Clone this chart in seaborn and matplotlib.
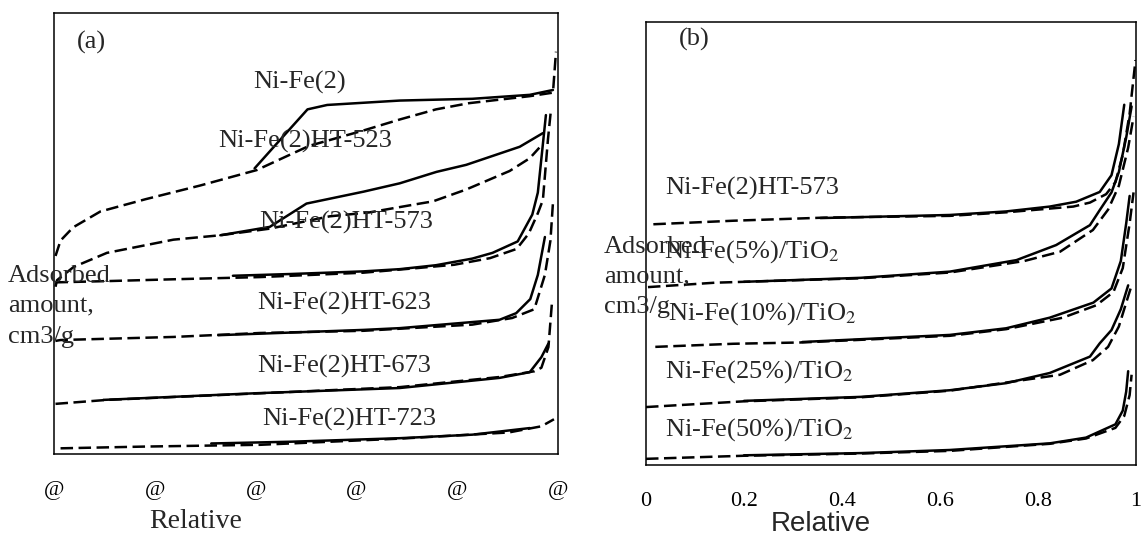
import matplotlib
matplotlib.use("Agg")
import matplotlib.pyplot as plt
import seaborn as sns
import pandas as pd

# relative pressure (x) and adsorbed amount (arbitrary offset units, y)
# dashed = adsorption branch, solid = desorption branch

# ---- panel (a): Ni-Fe(2) heat treated series ----
a_labels = ["Ni-Fe(2)", "Ni-Fe(2)HT-523", "Ni-Fe(2)HT-573",
            "Ni-Fe(2)HT-623", "Ni-Fe(2)HT-673", "Ni-Fe(2)HT-723"]

nife2_ads_x = [0.003, 0.013, 0.038, 0.092, 0.182, 0.290, 0.402, 0.506, 0.614, 0.686, 0.758, 0.823, 0.944, 0.990, 0.996]
nife2_ads_y = [44.9, 48.4, 51.4, 55.0, 57.8, 60.9, 64.4, 69.9, 73.4, 75.9, 78.2, 79.6, 81.2, 82.0, 91.3]
nife2_des_x = [0.398, 0.441, 0.503, 0.542, 0.686, 0.830, 0.944, 0.990]
nife2_des_y = [64.8, 70.3, 78.2, 79.2, 80.2, 80.6, 81.5, 82.6]

ht523_ads_x = [0.003, 0.006, 0.039, 0.105, 0.237, 0.330, 0.428, 0.547, 0.626, 0.726, 0.752, 0.818, 0.904, 0.944, 0.963]
ht523_ads_y = [37.9, 39.4, 42.4, 45.6, 48.6, 49.6, 51.1, 53.9, 54.8, 56.8, 57.3, 60.0, 64.2, 67.1, 69.5]
ht523_des_x = [0.330, 0.428, 0.501, 0.614, 0.686, 0.759, 0.818, 0.924, 0.970]
ht523_des_y = [49.6, 51.5, 56.8, 59.5, 61.4, 64.0, 65.6, 69.7, 72.8]

ht573_ads_x = [0.003, 0.110, 0.237, 0.409, 0.614, 0.726, 0.794, 0.865, 0.918, 0.942, 0.960, 0.970, 0.980, 0.986]
ht573_ads_y = [38.9, 39.2, 39.6, 40.1, 41.1, 42.2, 42.9, 44.4, 46.5, 50.0, 54.6, 57.6, 71.3, 78.1]
ht573_des_x = [0.355, 0.470, 0.614, 0.686, 0.758, 0.830, 0.870, 0.920, 0.949, 0.960, 0.970, 0.976]
ht573_des_y = [40.4, 40.8, 41.4, 41.9, 42.8, 44.3, 45.6, 48.2, 54.3, 59.3, 70.3, 76.9]

ht623_ads_x = [0.003, 0.013, 0.237, 0.409, 0.614, 0.830, 0.909, 0.953, 0.974, 0.985, 0.990]
ht623_ads_y = [25.6, 25.8, 26.5, 27.4, 27.9, 29.3, 30.8, 32.8, 40.6, 48.4, 57.0]
ht623_des_x = [0.326, 0.614, 0.686, 0.884, 0.917, 0.945, 0.960, 0.974]
ht623_des_y = [26.9, 28.1, 28.5, 30.4, 31.9, 35.1, 40.6, 49.2]

ht673_ads_x = [0.003, 0.105, 0.409, 0.686, 0.884, 0.953, 0.967, 0.981, 0.988]
ht673_ads_y = [11.3, 12.2, 13.7, 15.1, 17.4, 18.7, 19.5, 24.2, 34.3]
ht673_des_x = [0.098, 0.398, 0.686, 0.884, 0.944, 0.967, 0.981]
ht673_des_y = [12.2, 13.7, 14.9, 17.2, 18.5, 21.9, 25.0]

ht723_ads_x = [0.013, 0.182, 0.409, 0.686, 0.902, 0.967, 0.992]
ht723_ads_y = [1.2, 1.6, 2.0, 3.4, 4.8, 6.2, 7.8]
ht723_des_x = [0.312, 0.470, 0.686, 0.830, 0.944]
ht723_des_y = [2.3, 2.7, 3.5, 4.3, 5.8]

a_ticklabels = ["@", "@", "@", "@", "@", "@"]

# ---- panel (b): Ni-Fe on TiO2 series ----
b_labels = ["Ni-Fe(2)HT-573", "Ni-Fe(5%)/TiO$_2$", "Ni-Fe(10%)/TiO$_2$",
            "Ni-Fe(25%)/TiO$_2$", "Ni-Fe(50%)/TiO$_2$"]

b573_ads_x = [0.015, 0.178, 0.364, 0.620, 0.735, 0.872, 0.906, 0.939, 0.958, 0.973, 0.987, 0.999]
b573_ads_y = [54.3, 55.1, 55.8, 56.2, 57.0, 58.3, 59.2, 61.1, 63.8, 70.0, 79.3, 91.4]
b573_des_x = [0.356, 0.620, 0.735, 0.824, 0.878, 0.926, 0.950, 0.965, 0.976]
b573_des_y = [55.7, 56.4, 57.2, 58.3, 59.4, 61.6, 65.4, 72.4, 81.3]

ti5_ads_x = [0.004, 0.141, 0.438, 0.620, 0.772, 0.845, 0.912, 0.943, 0.965, 0.984, 0.995]
ti5_ads_y = [40.1, 41.1, 42.1, 43.4, 46.0, 48.1, 53.0, 57.6, 63.0, 71.6, 78.6]
ti5_des_x = [0.200, 0.438, 0.620, 0.756, 0.837, 0.906, 0.926, 0.950, 0.965, 0.980, 0.991]
ti5_des_y = [41.3, 42.2, 43.6, 46.2, 49.6, 54.1, 57.5, 61.5, 66.1, 73.9, 80.9]

ti10_ads_x = [0.019, 0.178, 0.319, 0.620, 0.735, 0.851, 0.919, 0.954, 0.973, 0.987, 0.995]
ti10_ads_y = [26.6, 27.3, 27.6, 29.1, 30.6, 33.2, 36.0, 39.0, 44.4, 54.5, 61.5]
ti10_des_x = [0.319, 0.620, 0.735, 0.824, 0.913, 0.950, 0.969, 0.980, 0.987]
ti10_des_y = [27.7, 29.3, 30.8, 33.2, 36.6, 39.8, 46.0, 54.5, 60.7]

ti25_ads_x = [0.0, 0.200, 0.438, 0.620, 0.845, 0.912, 0.943, 0.965, 0.980, 0.991]
ti25_ads_y = [13.0, 14.3, 15.2, 16.7, 20.3, 23.6, 26.6, 31.2, 36.6, 40.5]
ti25_des_x = [0.200, 0.438, 0.620, 0.735, 0.824, 0.906, 0.926, 0.950, 0.969, 0.984]
ti25_des_y = [14.4, 15.3, 16.8, 18.4, 20.7, 24.4, 27.4, 30.4, 35.1, 40.5]

ti50_ads_x = [0.0, 0.200, 0.438, 0.620, 0.824, 0.898, 0.958, 0.976, 0.987, 0.991]
ti50_ads_y = [1.3, 2.0, 2.5, 3.1, 4.7, 5.9, 8.3, 11.0, 15.7, 20.3]
ti50_des_x = [0.200, 0.438, 0.620, 0.824, 0.898, 0.958, 0.973, 0.980, 0.984]
ti50_des_y = [2.1, 2.6, 3.3, 4.8, 6.1, 9.1, 12.2, 16.5, 21.1]

b_ticklabels = ["0", "0.2", "0.4", "0.6", "0.8", "1"]
ticks = [0, 0.2, 0.4, 0.6, 0.8, 1.0]


def to_df(curves):
    rows = []
    for name, branch, xs, ys in curves:
        for i, (x, y) in enumerate(zip(xs, ys)):
            rows.append({"sample": name, "branch": branch, "order": i, "x": x, "y": y})
    return pd.DataFrame(rows)


df_a = to_df([
    (a_labels[0], "ads", nife2_ads_x, nife2_ads_y), (a_labels[0], "des", nife2_des_x, nife2_des_y),
    (a_labels[1], "ads", ht523_ads_x, ht523_ads_y), (a_labels[1], "des", ht523_des_x, ht523_des_y),
    (a_labels[2], "ads", ht573_ads_x, ht573_ads_y), (a_labels[2], "des", ht573_des_x, ht573_des_y),
    (a_labels[3], "ads", ht623_ads_x, ht623_ads_y), (a_labels[3], "des", ht623_des_x, ht623_des_y),
    (a_labels[4], "ads", ht673_ads_x, ht673_ads_y), (a_labels[4], "des", ht673_des_x, ht673_des_y),
    (a_labels[5], "ads", ht723_ads_x, ht723_ads_y), (a_labels[5], "des", ht723_des_x, ht723_des_y),
])
df_b = to_df([
    (b_labels[0], "ads", b573_ads_x, b573_ads_y), (b_labels[0], "des", b573_des_x, b573_des_y),
    (b_labels[1], "ads", ti5_ads_x, ti5_ads_y), (b_labels[1], "des", ti5_des_x, ti5_des_y),
    (b_labels[2], "ads", ti10_ads_x, ti10_ads_y), (b_labels[2], "des", ti10_des_x, ti10_des_y),
    (b_labels[3], "ads", ti25_ads_x, ti25_ads_y), (b_labels[3], "des", ti25_des_x, ti25_des_y),
    (b_labels[4], "ads", ti50_ads_x, ti50_ads_y), (b_labels[4], "des", ti50_des_x, ti50_des_y),
])

sns.set_theme(style="white")
plt.rcParams["font.family"] = ["Liberation Serif", "DejaVu Serif"]
plt.rcParams["mathtext.fontset"] = "stix"

fig = plt.figure(figsize=(11.41, 5.39), dpi=100)
ax_a = fig.add_axes([54 / 1141, 1 - 453.6 / 539, 504 / 1141, 440.2 / 539])
ax_b = fig.add_axes([646 / 1141, 1 - 464.6 / 539, 490 / 1141, 442.6 / 539])

dash_map = {"ads": (5, 2.2), "des": ""}
for ax, df in [(ax_a, df_a), (ax_b, df_b)]:
    df = df.copy()
    df["unit"] = df["sample"] + "_" + df["branch"]
    sns.lineplot(data=df, x="x", y="y", units="unit", style="branch", dashes=dash_map,
                 estimator=None, sort=False, color="black", lw=1.8, legend=False, ax=ax)
    ax.set_xlim(0, 1)
    ax.set_ylim(0, 100)
    ax.set_yticks([])
    ax.set_ylabel("")
    ax.set_xticks(ticks)
    ax.tick_params(axis="x", direction="in", length=5, width=1.2, pad=20, labelsize=16, colors="black")
    for s in ax.spines.values():
        s.set_color("black")
        s.set_linewidth(1.1)

ax_a.set_xticklabels(a_ticklabels)
ax_b.set_xticklabels(b_ticklabels)

fs = 19
ax_a.text(0.045, 93.3, "(a)", fontsize=fs, va="center", ha="left")
a_text_pos = [(0.396, 84.3), (0.326, 71.0), (0.407, 52.5), (0.404, 34.0), (0.404, 19.9), (0.413, 7.7)]
for lab, (tx, ty) in zip(a_labels, a_text_pos):
    ax_a.text(tx, ty, lab, fontsize=fs, va="center", ha="left")

ax_b.text(0.067, 96.0, "(b)", fontsize=fs, va="center", ha="left")
b_text_pos = [(0.039, 62.3), (0.036, 48.2), (0.045, 34.2), (0.039, 21.0), (0.039, 7.8)]
for lab, (tx, ty) in zip(b_labels, b_text_pos):
    ax_b.text(tx, ty, lab, fontsize=fs, va="center", ha="left")

ax_a.set_xlabel("Relative", fontsize=20)
ax_a.xaxis.set_label_coords(0.282, -0.155)
ax_a.xaxis.label.set_va("center")
ax_b.set_xlabel("Relative", fontsize=20, family=["Liberation Sans", "DejaVu Sans"])
ax_b.xaxis.set_label_coords(0.357, -0.134)
ax_b.xaxis.label.set_va("center")

fig.text(8 / 1141, 1 - 306 / 539, "Adsorbed\namount,\ncm3/g", fontsize=fs,
         ha="left", va="center", linespacing=1.5)
fig.text(604 / 1141, 1 - 277 / 539, "Adsorbed\namount,\ncm3/g", fontsize=fs,
         ha="left", va="center", linespacing=1.45)

fig.savefig("out.png", dpi=100, facecolor="white")
